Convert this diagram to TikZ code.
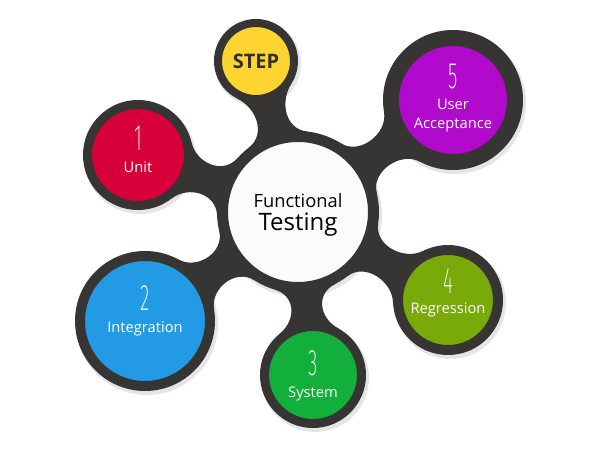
\documentclass[tikz,border=0pt]{standalone}
\usepackage{fontspec}
\setmainfont{Open Sans}
\newfontfamily\numfont{Fira Sans ExtraLight}
\usepackage{graphicx}
\usetikzlibrary{calc, backgrounds}

\definecolor{ringgray}{RGB}{55,53,52}
\definecolor{hubwhite}{RGB}{251,251,251}
\definecolor{stepyellow}{RGB}{254,213,48}
\definecolor{unitred}{RGB}{215,0,58}
\definecolor{integblue}{RGB}{34,155,228}
\definecolor{sysgreen}{RGB}{18,176,58}
\definecolor{regrgreen}{RGB}{120,170,10}
\definecolor{uapurple}{RGB}{178,10,204}

\tikzset{
  sat/.style ={circle, draw=ringgray, outer sep=0pt, inner sep=0pt},
  txt/.style ={align=center, text=white, inner sep=0pt, font=\fontsize{14.7}{17}\selectfont},
  shdw/.style={fill=black!10},
  ring/.style={fill=ringgray},
}
\newcommand\numtxt[1]{\scalebox{0.55}[1.05]{\fontsize{35}{35}\numfont #1}}

% neck from hub #1 to satellite #2, #3 = satellite radius, #4 = half angle on satellite
\newcommand\neck[4]{%
  \fill[ring] let \p1=($(#2)-(#1)$), \n1={atan2(\y1,\x1)} in
    ($(#1)+(\n1+22:81)$)
      .. controls ($(#1)+(\n1+22:81)+(\n1-68:22)$) and ($(#2)+(\n1+180-#4:#3)+(\n1+270-#4:22)$) ..
    ($(#2)+(\n1+180-#4:#3)$) -- (#2.center) -- ($(#2)+(\n1+180+#4:#3)$)
      .. controls ($(#2)+(\n1+180+#4:#3)+(\n1+90+#4:22)$) and ($(#1)+(\n1-22:81)+(\n1+68:22)$) ..
    ($(#1)+(\n1-22:81)$) -- (#1.center) -- cycle;}

\begin{document}
\begin{tikzpicture}[x=1pt, y=1pt]
  \useasboundingbox (0,0) rectangle (600,450);

  % hub
  \node[sat, fill=hubwhite, line width=11pt, minimum size=151pt] (hub) at (298,238) {};
  \node[align=center, inner sep=0pt, font=\fontsize{24}{23}\selectfont] (hubtxt) at ([yshift=-3pt]hub)
    {{\fontsize{18.3}{22}\selectfont Functional}\\Testing};

  % satellites
  \node[sat, fill=stepyellow, line width=8pt,  minimum size=76pt]  (step)   at (256,389) {};
  \node[sat, fill=unitred,    line width=9pt,  minimum size=101pt] (unit)   at (138,295) {};
  \node[sat, fill=uapurple,   line width=16pt, minimum size=124pt] (ua)     at (453,350) {};
  \node[sat, fill=integblue,  line width=10pt, minimum size=130pt] (integ)  at (145,129) {};
  \node[sat, fill=sysgreen,   line width=9pt,  minimum size=97pt]  (system) at (313,75)  {};
  \node[sat, fill=regrgreen,  line width=10pt, minimum size=100pt] (regr)   at (448,150) {};

  % texts
  \node[inner sep=0pt, text=ringgray!90!black, font=\fontsize{20}{24}\selectfont\bfseries] (steptxt) at (step) {STEP};
  \node[txt] (unittxt)   at ([yshift=5.5pt]unit)  {\numtxt{1}\\[5pt]Unit};
  \node[txt] (uatxt)     at ([yshift=2pt]ua)      {\numtxt{5}\\[4pt]User\\[2pt]Acceptance};
  \node[txt] (integtxt)  at ([yshift=10pt]integ)  {\numtxt{2}\\[5pt]Integration};
  \node[txt] (systemtxt) at ([yshift=-1pt]system) {\numtxt{3}\\[5pt]System};
  \node[txt] (regrtxt)   at ([yshift=7pt]regr)    {\numtxt{4}\\[3pt]Regression};

  \begin{scope}[on background layer]
    % soft shadows
    \fill[shdw] ([shift={(2,-3)}]hub.center)    circle (82);
    \fill[shdw] ([shift={(2,-3)}]step.center)   circle (43);
    \fill[shdw] ([shift={(2,-3)}]unit.center)   circle (56);
    \fill[shdw] ([shift={(2,-3)}]ua.center)     circle (71);
    \fill[shdw] ([shift={(2,-3)}]integ.center)  circle (71);
    \fill[shdw] ([shift={(2,-3)}]system.center) circle (54);
    \fill[shdw] ([shift={(2,-3)}]regr.center)   circle (56);
    % necks
    \neck{hub}{step}{42}{42}
    \neck{hub}{unit}{55}{33}
    \neck{hub}{ua}{70}{26}
    \neck{hub}{integ}{70}{26}
    \neck{hub}{system}{53}{34}
    \neck{hub}{regr}{55}{33}
  \end{scope}
\end{tikzpicture}
\end{document}
